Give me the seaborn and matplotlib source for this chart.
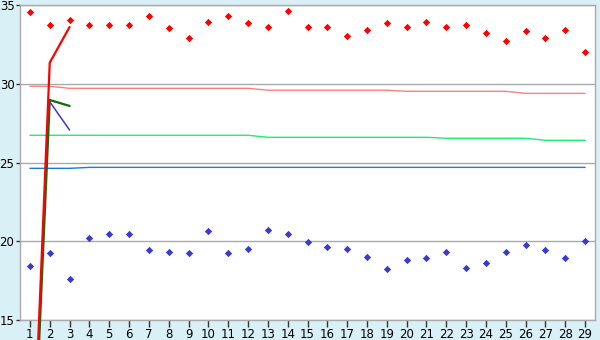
import matplotlib
matplotlib.use("Agg")
import matplotlib.pyplot as plt
import seaborn as sns
import pandas as pd
import numpy as np

days = list(range(1, 30))
red_pts = [34.54, 33.71, 34.03, 33.71, 33.71, 33.71, 34.28, 33.52, 32.88,
           33.90, 34.28, 33.84, 33.58, 34.60, 33.58, 33.58, 33.01, 33.39, 33.84,
           33.58, 33.90, 33.58, 33.71, 33.20, 32.69, 33.33, 32.88, 33.39, 32.00]
blue_pts = [18.41, 19.23, 17.58, 20.19, 20.44, 20.44, 19.42, 19.30, 19.23,
            20.63, 19.23, 19.49, 20.70, 20.44, 19.93, 19.62, 19.49, 18.98, 18.22,
            18.79, 18.92, 19.30, 18.28, 18.60, 19.30, 19.74, 19.42, 18.92, 20.00]
pink_line = [29.84, 29.84] + [29.71] * 10 + [29.59] * 7 + [29.52] * 6 + [29.39] * 4
green_line = [26.73] * 12 + [26.60] * 9 + [26.54] * 5 + [26.41] * 3
blue_line = [24.63] * 3 + [24.69] * 26

red_x = [1, 2, 3]
red_y = [1.0, 31.34, 33.60]
dgreen_x = [1, 2, 3]
dgreen_y = [0.3, 28.97, 28.59]
dblue_x = [2, 3]
dblue_y = [28.86, 27.06]

yticks = [15, 20, 25, 30, 35]

sns.set_theme(style="white")
plt.rcParams['font.family'] = ['DejaVu Sans']

fig = plt.figure(figsize=(6, 3.4), dpi=100, facecolor="#daf0f7")
ax = fig.add_axes([20/600, 20/340, 575/600, 315/340])
ax.set_facecolor("white")

for v in yticks:
    ax.axhline(v, color="#aaaaaa", lw=1.0, zorder=1)

df = pd.DataFrame({"x": days, "red": red_pts, "blue": blue_pts,
                   "pink": pink_line, "green": green_line, "bl": blue_line})

sns.lineplot(data=df, x="x", y="pink", color="#ff7f7f", lw=1.0, ax=ax, zorder=2)
sns.lineplot(data=df, x="x", y="green", color="#1aee77", lw=1.0, ax=ax, zorder=2)
sns.lineplot(data=df, x="x", y="bl", color="#1e78dc", lw=1.0, ax=ax, zorder=2)

sns.lineplot(x=dgreen_x, y=dgreen_y, color="#0b6e0b", lw=1.6, ax=ax,
             zorder=4, clip_on=False, sort=False)
sns.lineplot(x=red_x, y=red_y, color="#ff0000", lw=1.6, ax=ax,
             zorder=5, clip_on=False, sort=False)
sns.lineplot(x=dblue_x, y=dblue_y, color="#3a3acd", lw=1.1, ax=ax,
             zorder=4, sort=False)

sns.scatterplot(data=df, x="x", y="red", color="#ff0000", marker="D", s=14,
                linewidth=0, ax=ax, zorder=6)
sns.scatterplot(data=df, x="x", y="blue", color="#3a3acd", marker="D", s=14,
                linewidth=0, ax=ax, zorder=6)

ax.set_xlim(0.5, 29.5)
ax.set_ylim(15, 35)
ax.set_xticks(days)
ax.set_xticklabels([str(d) for d in days])
ax.set_yticks(yticks)
ax.set_yticklabels([str(v) for v in yticks])
ax.set_xlabel("")
ax.set_ylabel("")
for s in ax.spines.values():
    s.set_color("#aaaaaa")
    s.set_linewidth(1.0)
ax.tick_params(axis="both", which="both", direction="out", length=4, width=1,
               color="#333333", labelsize=8.5, labelcolor="black", pad=1)
ax.tick_params(axis="x", length=5)
ax.tick_params(axis="y", left=True, length=3)
ax.tick_params(axis="x", bottom=True)

fig.savefig("out.png", dpi=100, facecolor=fig.get_facecolor())
